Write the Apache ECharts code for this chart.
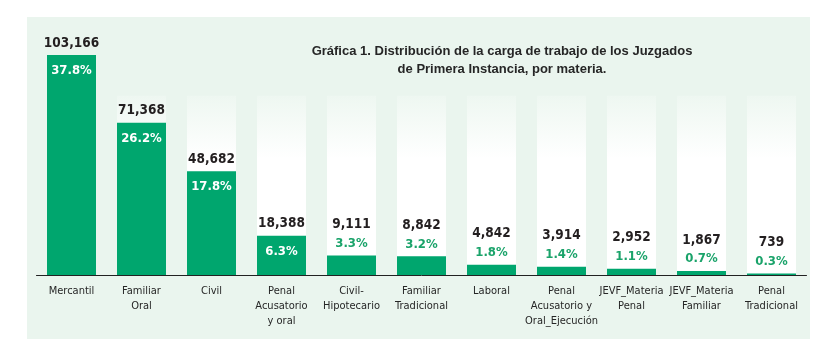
<!DOCTYPE html>
<html>
<head>
<meta charset="utf-8">
<script src="https://cdn.jsdelivr.net/npm/echarts@6/dist/echarts.min.js"></script>
<style>
  html, body { margin: 0; padding: 0; background: #fff; }
  #chart { width: 825px; height: 354px; }
</style>
</head>
<body>
<div id="chart"></div>
<script>
// datos de la gráfica
const categories = ['Mercantil', 'Familiar\nOral', 'Civil', 'Penal\nAcusatorio\ny oral', 'Civil-\nHipotecario',
  'Familiar\nTradicional', 'Laboral', 'Penal\nAcusatorio y\nOral_Ejecución', 'JEVF_Materia\nPenal',
  'JEVF_Materia\nFamiliar', 'Penal\nTradicional']
const values = [103166, 71368, 48682, 18388, 9111, 8842, 4842, 3914, 2952, 1867, 739]
const percents = [37.8, 26.2, 17.8, 6.3, 3.3, 3.2, 1.8, 1.4, 1.1, 0.7, 0.3]
// altura de las columnas blancas del fondo
const backTop = 84000

const green = '#00a66e'
const panel = '#eaf5ee'
const narrow = '"DejaVu Sans Condensed", "Liberation Sans Narrow", sans-serif'

function fmt (n) {
  return n.toLocaleString('en-US')
}

// las barras grandes llevan el porcentaje dentro, las chicas arriba
const bigCount = 4

let mainData = values.map(function (v, i) {
  if (i < bigCount) {
    return {
      value: v,
      label: {
        show: true, position: 'top', distance: 5,
        formatter: fmt(v),
        fontFamily: narrow, fontWeight: 'bold', fontSize: 13.5, color: '#231f20'
      }
    }
  }
  return {
    value: v,
    label: {
      show: true, position: 'top', distance: 3,
      formatter: '{v|' + fmt(v) + '}\n{p|' + percents[i].toFixed(1) + '%}',
      rich: {
        v: { fontFamily: narrow, fontWeight: 'bold', fontSize: 13.5, lineHeight: 20, color: '#231f20' },
        p: { fontFamily: narrow, fontWeight: 'bold', fontSize: 13, lineHeight: 18, color: '#1aa36a' }
      }
    }
  }
})

let pctData = values.map(function (v, i) {
  return {
    value: v,
    label: {
      show: i < bigCount, position: 'insideTop', distance: 9,
      formatter: percents[i].toFixed(1) + '%',
      fontFamily: narrow, fontWeight: 'bold', fontSize: 13, color: '#fff'
    }
  }
})

let chart = echarts.init(document.getElementById('chart'))
chart.setOption({
  animation: false,
  backgroundColor: '#fff',
  graphic: [
    {
      type: 'rect', z: -10, silent: true,
      shape: { x: 27, y: 17, width: 783, height: 322 },
      style: { fill: panel }
    },
    {
      type: 'text', z: 10, x: 502, y: 42,
      style: {
        text: 'Gráfica 1. Distribución de la carga de trabajo de los Juzgados\nde Primera Instancia, por materia.',
        align: 'center', lineHeight: 18,
        font: 'bold 13px "Liberation Sans", Arial, sans-serif',
        fill: '#262626'
      }
    }
  ],
  grid: { left: 36.5, right: 18.5, top: 55, bottom: 79 },
  xAxis: {
    type: 'category',
    data: categories,
    axisLine: { lineStyle: { color: '#222', width: 1 } },
    axisTick: { show: false },
    axisLabel: {
      interval: 0, margin: 9, lineHeight: 15,
      fontFamily: narrow, fontSize: 11, color: '#262626'
    }
  },
  yAxis: {
    type: 'value', min: 0, max: 103166, show: false,
    splitLine: { show: false }
  },
  series: [
    {
      name: 'fondo', type: 'bar', barWidth: '70%', silent: true,
      data: categories.map(function () { return backTop }),
      itemStyle: {
        color: new echarts.graphic.LinearGradient(0, 0, 0, 1, [
          { offset: 0, color: '#eef7f1' },
          { offset: 0.35, color: '#ffffff' },
          { offset: 1, color: '#ffffff' }
        ])
      }
    },
    {
      name: 'carga', type: 'bar', barWidth: '70%', barGap: '-100%', z: 3,
      data: mainData,
      itemStyle: { color: green }
    },
    {
      name: 'porcentaje', type: 'bar', barWidth: '70%', barGap: '-100%', z: 4,
      data: pctData,
      itemStyle: { color: 'rgba(0,0,0,0)' }
    }
  ]
})
</script>
</body>
</html>
